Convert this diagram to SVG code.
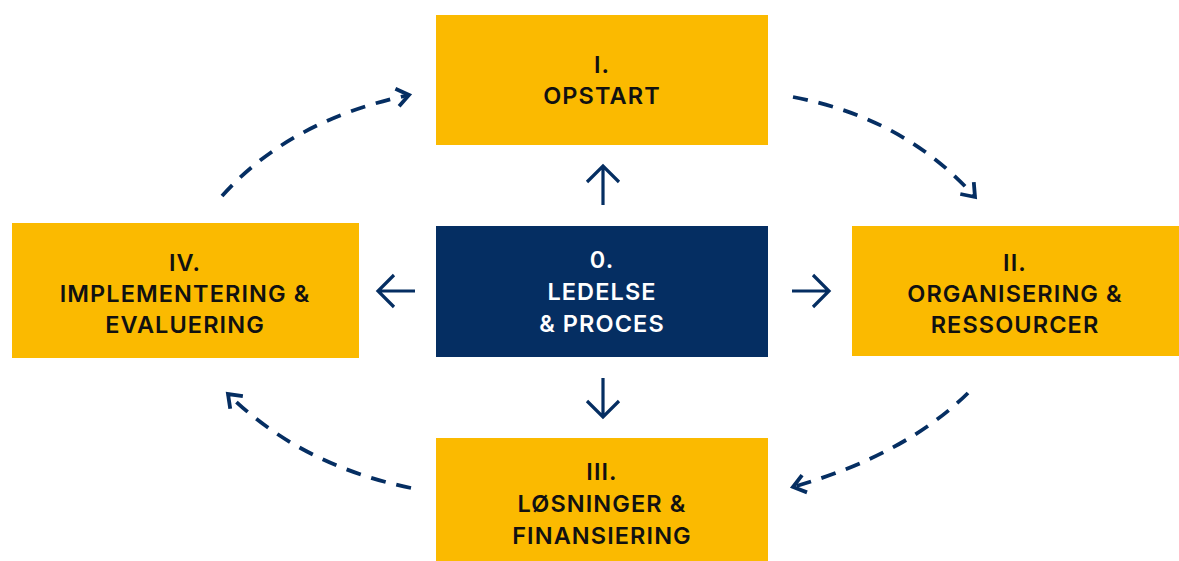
<svg xmlns="http://www.w3.org/2000/svg" width="1179" height="561" viewBox="0 0 1179 561">
<defs>
<style>
.box{fill:#FBBA00}
.core{fill:#052E62}
.t{font-family:Inter,"Liberation Sans",sans-serif;font-size:23.5px;font-weight:600;letter-spacing:1.1px;fill:#111;text-anchor:middle}
.w{fill:#fff}
.solid{fill:none;stroke:#052E62;stroke-width:3.2;stroke-linecap:butt;stroke-linejoin:miter}
.dash{fill:none;stroke:#052E62;stroke-width:3.8;stroke-dasharray:15 11}
</style>
<marker id="ah" viewBox="0 0 24 24" refX="17" refY="12" markerWidth="24" markerHeight="24" markerUnits="userSpaceOnUse" orient="auto">
<path d="M5,3 L17,12 L5,21" fill="none" stroke="#052E62" stroke-width="3.8"/>
</marker>
</defs>
<rect width="1179" height="561" fill="#fff"/>
<g id="node-0">
<rect class="core" x="436" y="226" width="332" height="131"/>
<text class="t w" x="602" y="268">0.</text>
<text class="t w" x="602" y="300">LEDELSE</text>
<text class="t w" x="602" y="332">&amp; PROCES</text>
</g>
<g id="node-1">
<rect class="box" x="436" y="15" width="332" height="130"/>
<text class="t" x="602" y="73">I.</text>
<text class="t" x="602" y="104">OPSTART</text>
</g>
<g id="node-2">
<rect class="box" x="852" y="226" width="327" height="130"/>
<text class="t" x="1015" y="271">II.</text>
<text class="t" x="1015" y="302">ORGANISERING &amp;</text>
<text class="t" x="1015" y="333">RESSOURCER</text>
</g>
<g id="node-3">
<rect class="box" x="436" y="438" width="332" height="123"/>
<text class="t" x="602" y="480">III.</text>
<text class="t" x="602" y="512">LØSNINGER &amp;</text>
<text class="t" x="602" y="544">FINANSIERING</text>
</g>
<g id="node-4">
<rect class="box" x="12" y="223" width="347" height="135"/>
<text class="t" x="185" y="271">IV.</text>
<text class="t" x="185" y="302">IMPLEMENTERING &amp;</text>
<text class="t" x="185" y="333">EVALUERING</text>
</g>
<g id="connectors">
<path class="solid" d="M603,205 V166 M587,182 L603,166 L619,182"/>
<path class="solid" d="M603,378 V417 M587,401 L603,417 L619,401"/>
<path class="solid" d="M415,291 H378 M394,275 L378,291 L394,307"/>
<path class="solid" d="M792,291 H829 M813,275 L829,291 L813,307"/>
<path class="dash" d="M222,196 Q290,120 409,95" marker-end="url(#ah)"/>
<path class="dash" d="M793,97 Q905,118 975,197" marker-end="url(#ah)"/>
<path class="dash" d="M968,393 Q905,455 793,487" marker-end="url(#ah)"/>
<path class="dash" d="M411,488 Q300,465 228,394" marker-end="url(#ah)"/>
</g>
</svg>
